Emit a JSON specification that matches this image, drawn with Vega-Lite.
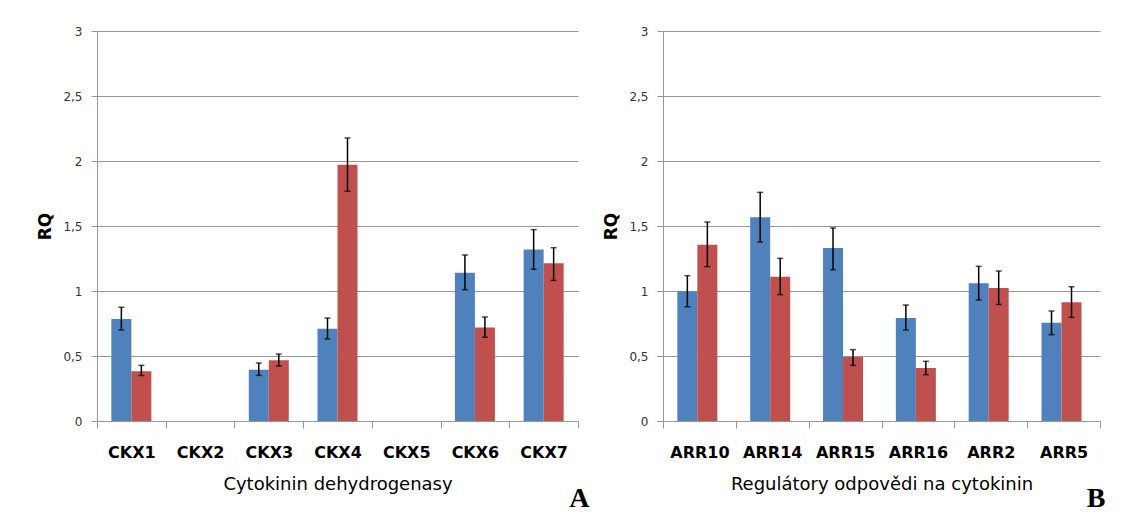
{
  "$schema": "https://vega.github.io/schema/vega-lite/v6.json",
  "padding": {"left": 36, "top": 25, "right": 5, "bottom": 5},
  "background": "white",
  "bounds": "flush",
  "spacing": 85,
  "datasets": {
    "ckx": [
      {"gene": "CKX1", "series": "s1", "value": 0.785, "lo": 0.70, "hi": 0.875},
      {"gene": "CKX1", "series": "s2", "value": 0.382, "lo": 0.35, "hi": 0.428},
      {"gene": "CKX3", "series": "s1", "value": 0.395, "lo": 0.351, "hi": 0.446},
      {"gene": "CKX3", "series": "s2", "value": 0.467, "lo": 0.423, "hi": 0.515},
      {"gene": "CKX4", "series": "s1", "value": 0.71, "lo": 0.631, "hi": 0.792},
      {"gene": "CKX4", "series": "s2", "value": 1.972, "lo": 1.767, "hi": 2.177},
      {"gene": "CKX6", "series": "s1", "value": 1.141, "lo": 1.01, "hi": 1.277},
      {"gene": "CKX6", "series": "s2", "value": 0.72, "lo": 0.644, "hi": 0.80},
      {"gene": "CKX7", "series": "s1", "value": 1.32, "lo": 1.167, "hi": 1.472},
      {"gene": "CKX7", "series": "s2", "value": 1.213, "lo": 1.082, "hi": 1.333}
    ],
    "arr": [
      {"gene": "ARR10", "series": "s1", "value": 0.998, "lo": 0.879, "hi": 1.118},
      {"gene": "ARR10", "series": "s2", "value": 1.356, "lo": 1.187, "hi": 1.531},
      {"gene": "ARR14", "series": "s1", "value": 1.567, "lo": 1.377, "hi": 1.759},
      {"gene": "ARR14", "series": "s2", "value": 1.11, "lo": 0.972, "hi": 1.251},
      {"gene": "ARR15", "series": "s1", "value": 1.331, "lo": 1.164, "hi": 1.485},
      {"gene": "ARR15", "series": "s2", "value": 0.492, "lo": 0.428, "hi": 0.549},
      {"gene": "ARR16", "series": "s1", "value": 0.792, "lo": 0.70, "hi": 0.892},
      {"gene": "ARR16", "series": "s2", "value": 0.408, "lo": 0.356, "hi": 0.459},
      {"gene": "ARR2", "series": "s1", "value": 1.059, "lo": 0.931, "hi": 1.19},
      {"gene": "ARR2", "series": "s2", "value": 1.023, "lo": 0.897, "hi": 1.154},
      {"gene": "ARR5", "series": "s1", "value": 0.756, "lo": 0.664, "hi": 0.846},
      {"gene": "ARR5", "series": "s2", "value": 0.913, "lo": 0.797, "hi": 1.033}
    ]
  },
  "config": {
    "font": "DejaVu Sans",
    "view": {"stroke": null},
    "axisX": {
      "labelAngle": 0, "labelFont": "DejaVu Sans", "labelFontSize": 16, "labelFontWeight": "bold", "labelColor": "black",
      "labelPadding": 16, "tickBand": "extent", "tickSize": 7, "tickColor": "#969696", "domainColor": "#969696",
      "grid": false, "titleFont": "DejaVu Sans", "titleFontSize": 18, "titleFontWeight": "normal", "titleColor": "black", "titlePadding": 15
    },
    "axisY": {
      "labelExpr": "replace(format(datum.value, '~g'), '.', ',')",
      "grid": true, "gridColor": "#969696", "domainColor": "#969696", "tickColor": "#969696", "tickSize": 6,
      "labelPadding": 9, "labelFont": "DejaVu Sans", "labelFontSize": 12, "labelColor": "#333333",
      "titleFont": "DejaVu Sans", "titleFontSize": 17, "titleFontWeight": "bold", "titleColor": "black", "titlePadding": 8
    },
    "title": {"font": "Liberation Serif", "fontSize": 28, "fontWeight": "bold", "color": "black"}
  },
  "hconcat": [
    {
      "width": 481, "height": 390,
      "data": {"name": "ckx"},
      "title": {"text": "A", "orient": "bottom", "anchor": "end", "dx": 11, "offset": -8},
      "encoding": {
        "x": {"field": "gene", "type": "nominal", "title": "Cytokinin dehydrogenasy",
              "scale": {"domain": ["CKX1", "CKX2", "CKX3", "CKX4", "CKX5", "CKX6", "CKX7"], "paddingInner": 0, "paddingOuter": 0}},
        "xOffset": {"field": "series", "type": "nominal", "scale": {"paddingInner": 0, "paddingOuter": 0.718}}
      },
      "layer": [
        {"mark": {"type": "bar"},
         "encoding": {
           "y": {"field": "value", "type": "quantitative", "title": "RQ", "scale": {"domain": [0, 3]}, "axis": {"values": [0, 0.5, 1, 1.5, 2, 2.5, 3]}},
           "color": {"field": "series", "type": "nominal", "scale": {"domain": ["s1", "s2"], "range": ["#4F81BD", "#C0504D"]}, "legend": null}
         }},
        {"mark": {"type": "rule", "color": "black", "strokeWidth": 1.5},
         "encoding": {"y": {"field": "lo", "type": "quantitative", "title": "RQ", "axis": {"values": [0, 0.5, 1, 1.5, 2, 2.5, 3]}}, "y2": {"field": "hi"}}},
        {"mark": {"type": "tick", "color": "black", "thickness": 1.5, "size": 6, "orient": "horizontal"},
         "encoding": {"y": {"field": "lo", "type": "quantitative", "title": "RQ", "axis": {"values": [0, 0.5, 1, 1.5, 2, 2.5, 3]}}}},
        {"mark": {"type": "tick", "color": "black", "thickness": 1.5, "size": 6, "orient": "horizontal"},
         "encoding": {"y": {"field": "hi", "type": "quantitative", "title": "RQ", "axis": {"values": [0, 0.5, 1, 1.5, 2, 2.5, 3]}}}}
      ]
    },
    {
      "width": 437, "height": 390,
      "data": {"name": "arr"},
      "title": {"text": "B", "orient": "bottom", "anchor": "end", "dx": 5, "offset": -8},
      "encoding": {
        "x": {"field": "gene", "type": "nominal", "title": "Regulátory odpovědi na cytokinin",
              "scale": {"domain": ["ARR10", "ARR14", "ARR15", "ARR16", "ARR2", "ARR5"], "paddingInner": 0, "paddingOuter": 0}},
        "xOffset": {"field": "series", "type": "nominal", "scale": {"paddingInner": 0, "paddingOuter": 0.776}}
      },
      "layer": [
        {"mark": {"type": "bar"},
         "encoding": {
           "y": {"field": "value", "type": "quantitative", "title": "RQ", "scale": {"domain": [0, 3]}, "axis": {"values": [0, 0.5, 1, 1.5, 2, 2.5, 3]}},
           "color": {"field": "series", "type": "nominal", "scale": {"domain": ["s1", "s2"], "range": ["#4F81BD", "#C0504D"]}, "legend": null}
         }},
        {"mark": {"type": "rule", "color": "black", "strokeWidth": 1.5},
         "encoding": {"y": {"field": "lo", "type": "quantitative", "title": "RQ", "axis": {"values": [0, 0.5, 1, 1.5, 2, 2.5, 3]}}, "y2": {"field": "hi"}}},
        {"mark": {"type": "tick", "color": "black", "thickness": 1.5, "size": 6, "orient": "horizontal"},
         "encoding": {"y": {"field": "lo", "type": "quantitative", "title": "RQ", "axis": {"values": [0, 0.5, 1, 1.5, 2, 2.5, 3]}}}},
        {"mark": {"type": "tick", "color": "black", "thickness": 1.5, "size": 6, "orient": "horizontal"},
         "encoding": {"y": {"field": "hi", "type": "quantitative", "title": "RQ", "axis": {"values": [0, 0.5, 1, 1.5, 2, 2.5, 3]}}}}
      ]
    }
  ]
}
